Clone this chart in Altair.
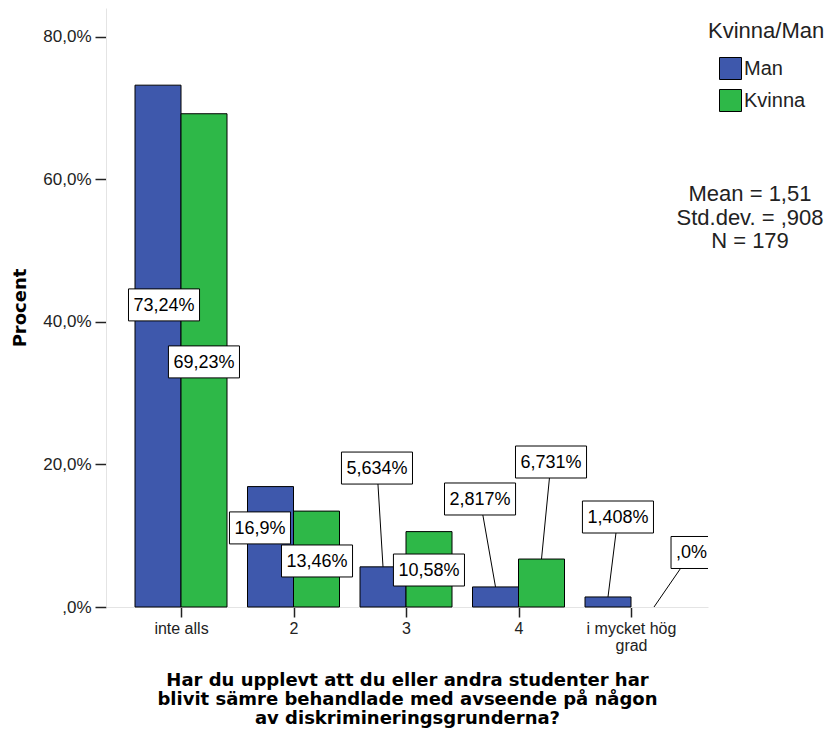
import json
import textwrap
import altair as alt
import pandas as pd

# ---------------- data ----------------
categories = ["inte alls", "2", "3", "4", "i mycket hög grad"]
genders = ["Man", "Kvinna"]
man_pct = [73.24, 16.90, 5.634, 2.817, 1.408]
kvinna_pct = [69.23, 13.46, 10.58, 6.731, 0.0]
man_labels = ["73,24%", "16,9%", "5,634%", "2,817%", "1,408%"]
kvinna_labels = ["69,23%", "13,46%", "10,58%", "6,731%", ",0%"]
# label anchors as placed in the original (x in category units, y in percent)
man_label_x = [-0.151, 0.702, 1.742, 2.658, 3.884]
man_label_y = [42.4, 11.1, 19.5, 15.16, 12.63]
kvinna_label_x = [0.204, 1.209, 2.204, 3.289, 4.538]
kvinna_label_y = [34.4, 6.46, 5.19, 20.35, 7.65]
man_leader = [False, False, True, True, True]
kvinna_leader = [False, False, False, True, True]
stats = ["Mean = 1,51", "Std.dev. = ,908", "N = 179"]
y_ticks = [0, 20, 40, 60, 80]
x_title = ["Har du upplevt att du eller andra studenter har",
           "blivit sämre behandlade med avseende på någon",
           "av diskrimineringsgrunderna?"]

rows = []
for g, vals, labs, lxs, lys, leads in [
    ("Man", man_pct, man_labels, man_label_x, man_label_y, man_leader),
    ("Kvinna", kvinna_pct, kvinna_labels, kvinna_label_x, kvinna_label_y, kvinna_leader),
]:
    for i, c in enumerate(categories):
        rows.append(dict(idx=i, cat=c, gender=g, value=vals[i], label=labs[i],
                         lx=lxs[i], ly=lys[i], leader=leads[i]))
df = pd.DataFrame(rows)

# ---------------- layout ----------------
W, H = 602, 599
XMIN, XMAX = -0.6667, 4.6844
YMAX = 84.07
PXU = W / (XMAX - XMIN)          # pixels per category unit
PYU = H / YMAX                   # pixels per percent
BW = 46 / PXU                    # bar width in category units
LABEL_FS = 18
BOX_HALF_H = 16 / PYU

BLUE = "#3E58AC"
GREEN = "#2EB848"
TXT = "#222222"

wrapped = [textwrap.wrap(c, 12) for c in categories]
x_label_expr = json.dumps(wrapped, ensure_ascii=False) + "[datum.value]"

xscale = alt.Scale(domain=[XMIN, XMAX], nice=False, zero=False)
yscale = alt.Scale(domain=[0, YMAX], nice=False)

xaxis = alt.Axis(
    values=list(range(len(categories))), labelExpr=x_label_expr,
    grid=False, tickSize=10, tickWidth=1.5, tickColor=TXT,
    domainColor="#e4e4e4", domainWidth=1,
    labelFont="Liberation Sans", labelFontSize=16, labelColor=TXT,
    labelPadding=3, labelLineHeight=17, labelFlush=False, labelOverlap=False,
    title=x_title, titleFont="DejaVu Sans", titleFontSize=18, titleFontWeight="bold",
    titleColor="black", titleLineHeight=19, titleY=64, titleBaseline="top",
)
yaxis = alt.Axis(
    values=y_ticks,
    labelExpr="datum.value == 0 ? ',0%' : replace(format(datum.value, '.1f'), '.', ',') + '%'",
    grid=False, tickSize=11, tickWidth=1.5, tickColor=TXT,
    domainColor="#e4e4e4", domainWidth=1,
    labelFont="Liberation Sans", labelFontSize=17, labelColor=TXT,
    labelPadding=4, labelFlush=False, labelOverlap=False,
    title="Procent", titleFont="DejaVu Sans", titleFontSize=18, titleFontWeight="bold",
    titleColor="black", titleAngle=-90, titleX=-86, titleY=299.5,
    titleAlign="center", titleBaseline="middle",
)


def X(f):
    return alt.X(f, type="quantitative", scale=xscale, axis=xaxis)


def Y(f):
    return alt.Y(f, type="quantitative", scale=yscale, axis=yaxis)


base = alt.Chart(df)

bars = base.transform_filter("datum.value > 0").transform_calculate(
    x0=f"datum.idx + (datum.gender == 'Man' ? {-BW} : 0)",
    x1=f"datum.idx + (datum.gender == 'Man' ? 0 : {BW})",
    zero="0",
).mark_rect(stroke="black", strokeWidth=1).encode(
    x=X("x0"), x2="x1:Q", y=Y("value"), y2="zero:Q",
    color=alt.Color("gender:N", scale=alt.Scale(domain=genders, range=[BLUE, GREEN]),
                    legend=alt.Legend(
                        title="Kvinna/Man", orient="none", legendX=602, legendY=13,
                        symbolType="square", symbolSize=484, symbolStrokeColor="black",
                        symbolStrokeWidth=1, symbolOpacity=1, symbolOffset=11,
                        labelFont="Liberation Sans", labelFontSize=20, labelColor=TXT,
                        labelOffset=2, rowPadding=5, padding=0,
                        titleFont="Liberation Sans", titleFontSize=22,
                        titleFontWeight="normal", titleColor=TXT,
                        titlePadding=14)),
)

leaders = base.transform_filter("datum.leader").transform_calculate(
    bx=f"datum.idx + (datum.gender == 'Man' ? {-BW / 2} : {BW / 2})",
).mark_rule(color="black", strokeWidth=1).encode(
    x=X("bx"), y=Y("value"), x2="lx:Q", y2="ly:Q",
)

boxes = base.transform_calculate(
    hw=f"({LABEL_FS} * (0.556 * length(datum.label) + 0.055) + 10) / 2 / {PXU}",
).transform_calculate(
    bl="datum.lx - datum.hw", br="datum.lx + datum.hw",
    bb=f"datum.ly - {BOX_HALF_H}", bt=f"datum.ly + {BOX_HALF_H}",
).mark_rect(fill="white", stroke="black", strokeWidth=1, clip=True).encode(
    x=X("bl"), x2="br:Q", y=Y("bb"), y2="bt:Q",
)

texts = base.mark_text(font="Liberation Sans", fontSize=LABEL_FS, color="black",
                       align="center", baseline="middle", clip=True, dy=1).encode(
    x=X("lx"), y=Y("ly"), text="label:N",
)

chart = alt.layer(bars, leaders, boxes, texts).properties(
    width=W, height=H,
    background="white",
    autosize=alt.AutoSizeParams(type="none"),
    padding={"left": 98, "top": 0, "right": 116, "bottom": 121},
    title=alt.TitleParams(
        text=stats, orient="top", anchor="end", frame="group", align="center",
        baseline="top", dx=42, dy=245, offset=0,
        font="Liberation Sans", fontSize=22, fontWeight="normal", color=TXT,
        lineHeight=23.5),
).configure_view(stroke=None)

chart.save("out.html", embed_options={"renderer": "svg", "actions": False})
